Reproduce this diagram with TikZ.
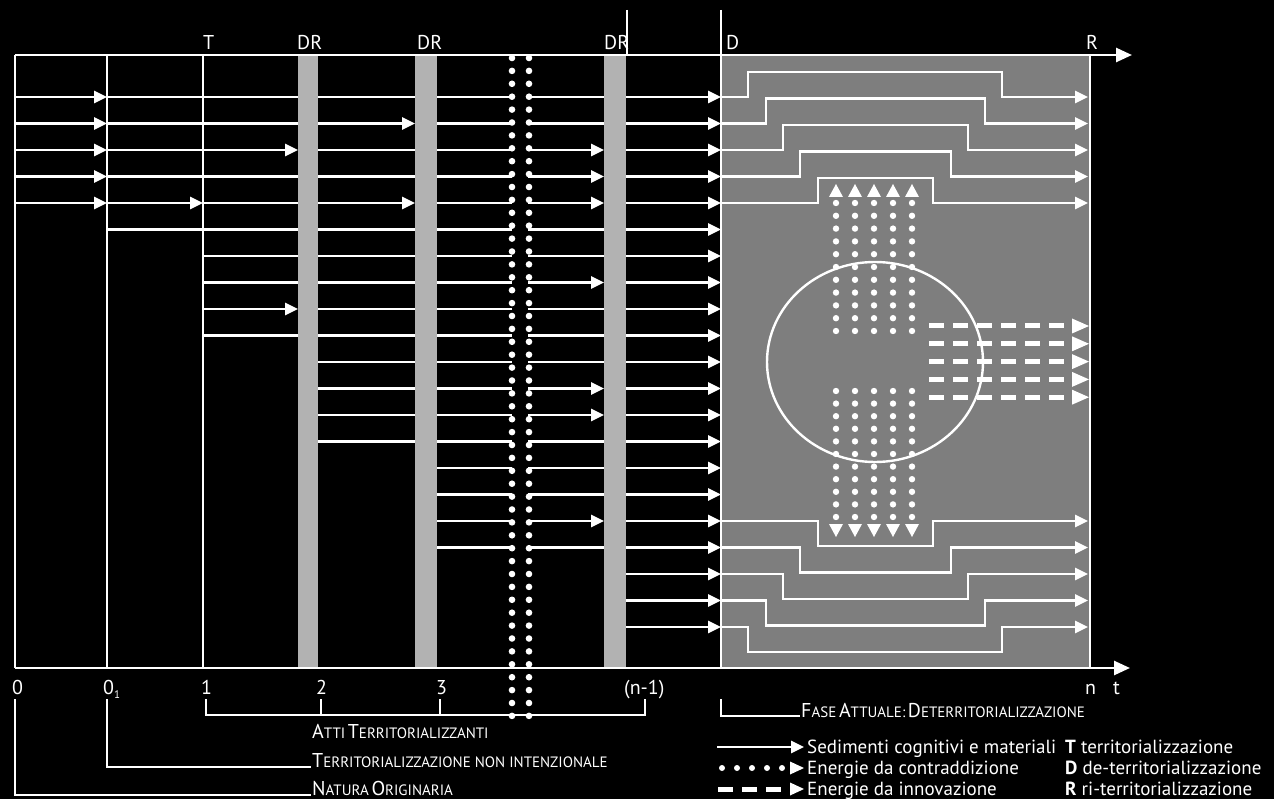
\documentclass[tikz,border=0pt]{standalone}
\usepackage{fontspec}
\setmainfont{PT Sans}
\usetikzlibrary{arrows.meta}
\definecolor{bandgray}{RGB}{178,178,178}
\definecolor{zonegray}{RGB}{126,126,126}
\newcommand\fsc[2]{{\fontsize{20}{22}\selectfont #1}{\fontsize{15}{17}\selectfont #2}}
\tikzset{
  wl/.style={white, line width=2.6pt},
  wa/.style={wl, -{Triangle[length=13pt,width=12pt]}},
  axisarrow/.style={white, line width=2.6pt, -{Triangle[length=16pt,width=14pt]}},
  brk/.style={white, line width=1.6pt},
  lbl/.style={text=white, inner sep=0pt, anchor=base west, font=\fontsize{20}{22}\selectfont},
  leg/.style={text=white, inner sep=0pt, anchor=base west, font=\fontsize{19}{22}\selectfont},
  sclbl/.style={text=white, inner sep=0pt, anchor=base west},
}
\begin{document}
\begin{tikzpicture}[x=1pt,y=-1pt]
\fill[black] (0,0) rectangle (1274,799);
\useasboundingbox (0,0) rectangle (1274,799);
% grey zone and DR bands
\fill[zonegray] (721,55) rectangle (1090,668);
\fill[bandgray] (298,55) rectangle (318,668);
\fill[bandgray] (415,55) rectangle (437,668);
\fill[bandgray] (604,55) rectangle (626,668);
% column A
\foreach \r in {1,...,5}{\pgfmathsetmacro\y{97+(\r-1)*26.5}\draw[wa] (15,\y) -- (107,\y);}
% column B
\foreach \r in {1,2,3,4,6}{\pgfmathsetmacro\y{97+(\r-1)*26.5}\draw[wl] (107,\y) -- (203,\y);}
\foreach \r in {5}{\pgfmathsetmacro\y{97+(\r-1)*26.5}\draw[wa] (107,\y) -- (203,\y);}
% column C
\foreach \r in {1,2,4,5,6,7,8,10}{\pgfmathsetmacro\y{97+(\r-1)*26.5}\draw[wl] (203,\y) -- (298,\y);}
\foreach \r in {3,9}{\pgfmathsetmacro\y{97+(\r-1)*26.5}\draw[wa] (203,\y) -- (298,\y);}
% column D
\foreach \r in {1,3,4,6,7,8,9,10,11,12,13,14}{\pgfmathsetmacro\y{97+(\r-1)*26.5}\draw[wl] (318,\y) -- (415,\y);}
\foreach \r in {2,5}{\pgfmathsetmacro\y{97+(\r-1)*26.5}\draw[wa] (318,\y) -- (415,\y);}
% column E
\foreach \r in {1,...,18}{\pgfmathsetmacro\y{97+(\r-1)*26.5}\draw[wl] (437,\y) -- (512,\y);}
% column F
\foreach \r in {1,2,6,7,9,10,11,14,15,16,18}{\pgfmathsetmacro\y{97+(\r-1)*26.5}\draw[wl] (528,\y) -- (604,\y);}
\foreach \r in {3,4,5,8,12,13,17}{\pgfmathsetmacro\y{97+(\r-1)*26.5}\draw[wa] (528,\y) -- (604,\y);}
% column G
\foreach \r in {1,...,21}{\pgfmathsetmacro\y{97+(\r-1)*26.5}\draw[wa] (626,\y) -- (721,\y);}
% vertical lines
\draw[wl] (15,55) -- (15,668);
\draw[wl] (107,55) -- (107,668);
\draw[wl] (203,55) -- (203,668);
\draw[white, line width=2pt] (721,10) -- (721,668);
\draw[white, line width=2pt] (627,10) -- (627,55);
\draw[wl] (1090,55) -- (1090,668);
% axes
\draw[axisarrow] (15,55) -- (1132,55);
\draw[axisarrow] (15,668) -- (1130,668);
% staircases top
\foreach \k/\xs/\xe in {1/748/1002,2/766/985,3/783/968,4/800/951,5/818/933}{
  \pgfmathsetmacro\y{97+(\k-1)*26.5}
  \draw[wa] (721,\y) -- (\xs,\y) -- (\xs,\y-25) -- (\xe,\y-25) -- (\xe,\y) -- (1088,\y);
}
% staircases bottom
\foreach \k/\xs/\xe in {17/818/933,18/800/951,19/783/968,20/766/985,21/748/1002}{
  \pgfmathsetmacro\y{97+(\k-1)*26.5}
  \draw[wa] (721,\y) -- (\xs,\y) -- (\xs,\y+25) -- (\xe,\y+25) -- (\xe,\y) -- (1088,\y);
}
% circle
\draw[white, line width=2.4pt] (875,362) ellipse [x radius=108pt, y radius=100pt];
% dotted arrows up / down
\foreach \x in {836,855,874,893,912}{
  \foreach \i in {0,...,10}{\fill[white] (\x,203+\i*12.8) circle (3.2pt);}
  \fill[white] (\x-7,197) -- (\x+7,197) -- (\x,184) -- cycle;
  \foreach \i in {0,...,10}{\fill[white] (\x,391+\i*12.6) circle (3.2pt);}
  \fill[white] (\x-7,524) -- (\x+7,524) -- (\x,537) -- cycle;
}
% dashed arrows
\foreach \i in {0,...,4}{
  \pgfmathsetmacro\y{326+\i*17.8}
  \draw[white, line width=5pt, dash pattern=on 15pt off 9pt] (929,\y) -- (1073,\y);
  \fill[white] (1072,\y-7.5) -- (1089,\y) -- (1072,\y+7.5) -- cycle;
}
% dotted double column
\foreach \i in {0,...,51}{
  \fill[white] (512,58+\i*12.9) circle (3.3pt);
  \fill[white] (529,58+\i*12.9) circle (3.3pt);
}
% top labels
\node[lbl] (lT) at (203,50) {T};
\node[lbl] (lDR1) at (297,50) {DR};
\node[lbl] (lDR2) at (417,50) {DR};
\node[lbl] (lDR3) at (604,50) {DR};
\node[lbl] (lD) at (726,50) {D};
\node[lbl] (lR) at (1086,50) {R};
% bottom labels
\node[lbl] (b0) at (12,694) {0};
\node[lbl] (b01) at (103,694) {0\raisebox{-4pt}{\fontsize{11}{12}\selectfont 1}};
\node[lbl] (b1) at (201,694) {1};
\node[lbl] (b2) at (316,694) {2};
\node[lbl] (b3) at (436,694) {3};
\node[lbl] (bn1) at (624,694) {(n-1)};
\node[lbl] (bn) at (1085,694) {n};
\node[lbl] (bt) at (1113,694) {t};
% brackets
\draw[brk] (206,699) -- (206,715) -- (645,715) -- (645,699);
\draw[brk] (321,699) -- (321,715);
\draw[brk] (440,699) -- (440,715);
\draw[brk] (107,699) -- (107,767) -- (311,767);
\draw[brk] (15,699) -- (15,795) -- (311,795);
\draw[brk] (721,699) -- (721,716) -- (800,716);
\node[sclbl] (atti) at (312,738) {\fsc{A}{TTI} \fsc{T}{ERRITORIALIZZANTI}};
\node[sclbl] (tni) at (312,767) {\fsc{T}{ERRITORIALIZZAZIONE NON INTENZIONALE}};
\node[sclbl] (nat) at (312,795) {\fsc{N}{ATURA} \fsc{O}{RIGINARIA}};
\node[sclbl] (fase) at (801,717) {\fsc{F}{ASE} \fsc{A}{TTUALE:} \fsc{D}{ETERRITORIALIZZAZIONE}};
% legend
\draw[wa] (717,747) -- (804,747);
\foreach \x in {722,737,752,767,782}{\fill[white] (\x,768) circle (3pt);}
\fill[white] (790,761.5) -- (804,768) -- (790,774.5) -- cycle;
\draw[white, line width=5pt, dash pattern=on 15pt off 9pt] (718,789) -- (791,789);
\fill[white] (790,782.5) -- (804,789) -- (790,795.5) -- cycle;
\node[leg] (s1) at (807,753) {Sedimenti cognitivi e materiali};
\node[leg] (s2) at (807,774) {Energie da contraddizione};
\node[leg] (s3) at (807,795) {Energie da innovazione};
\node[leg] (k1) at (1065,753) {\textbf{T} territorializzazione};
\node[leg] (k2) at (1065,774) {\textbf{D} de-territorializzazione};
\node[leg] (k3) at (1065,795) {\textbf{R} ri-territorializzazione};
\end{tikzpicture}
\end{document}
